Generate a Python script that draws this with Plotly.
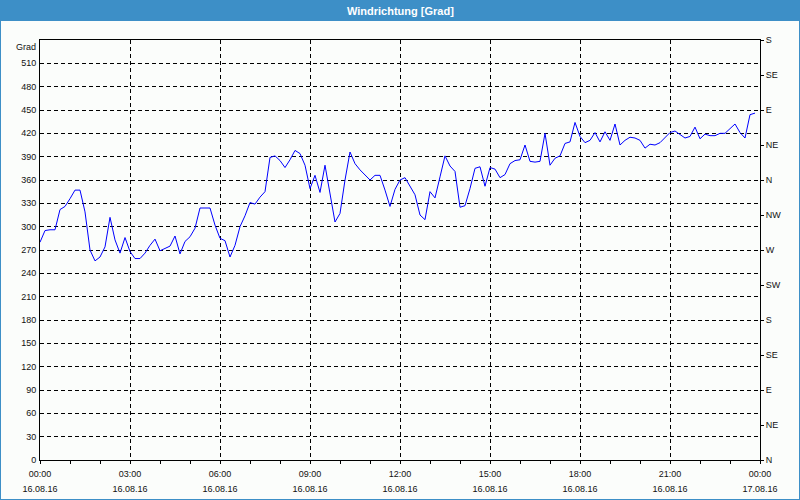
import pandas as pd
import plotly.graph_objects as go

# ---- data ----
START = "2016-08-16 00:00"
STEP = "10min"
WIND_DEG = [
    280, 295, 296, 296, 322, 326, 336, 347, 347, 319, 270, 256, 261, 274, 312, 283, 266, 286,
    268, 259, 259, 266, 276, 284, 269, 272, 275, 288, 265, 281, 287, 298, 324, 324, 324, 302, 285,
    282, 261, 276, 300, 314, 331, 329, 338, 345, 389, 391, 385, 376, 386, 398, 394, 379, 349,
    366, 344, 379, 343, 306, 317, 360, 396, 381, 373, 366, 360, 366, 366, 347, 326, 348, 360,
    363, 351, 341, 315, 309, 345, 337, 364, 391, 378, 371, 325, 327, 349, 375, 377, 352, 376,
    374, 363, 367, 381, 385, 386, 405, 384, 383, 384, 420, 379, 388, 391, 407, 409, 434, 416,
    408, 411, 421, 409, 422, 411, 432, 405, 411, 415, 414, 411, 401, 406, 405, 408, 414, 421,
    423, 419, 414, 416, 428, 413, 419, 417, 417, 420, 420, 426, 432, 421, 414, 444, 446,
]
times = pd.date_range(START, periods=len(WIND_DEG), freq=STEP)

Y_TICKS = list(range(0, 511, 30))
Y_TICK_TEXT = [str(v) for v in Y_TICKS]
DIR_TICKS = list(range(0, 541, 45))
DIR_LABELS = ["N", "NE", "E", "SE", "S", "SW", "W", "NW", "N", "NE", "E", "SE", "S"]
X_TICKS = pd.date_range("2016-08-16 00:00", periods=9, freq="3h")
TIME_LABELS = ["00:00", "03:00", "06:00", "09:00", "12:00", "15:00", "18:00", "21:00", "00:00"]
DATE_LABELS = ["16.08.16"] * 8 + ["17.08.16"]
TITLE = "Windrichtung [Grad]"
Y_UNIT = "Grad"

# ---- style ----
W, H = 800, 500
ML, MR, MT, MB = 40, 40, 40, 40
PW, PH = W - ML - MR, H - MT - MB
BAR = "#3d8fc7"
BG = "#fbfdfb"
FONT = "Liberation Sans"
XR = [X_TICKS[0], X_TICKS[-1]]

fig = go.Figure()
fig.add_trace(go.Scatter(x=times, y=WIND_DEG, mode="lines",
                         line=dict(color="#0000ff", width=1),
                         showlegend=False, hoverinfo="skip"))
fig.add_trace(go.Scatter(x=times, y=WIND_DEG, mode="lines", xaxis="x2", yaxis="y2",
                         line=dict(color="rgba(0,0,0,0)", width=0),
                         showlegend=False, hoverinfo="skip"))

grid = dict(showgrid=True, gridcolor="black", gridwidth=1, griddash="4px,3px")
tickfont = dict(family=FONT, size=9, color="#111")

fig.update_layout(
    width=W, height=H, autosize=False,
    margin=dict(l=ML, r=MR, t=MT, b=MB, pad=0, autoexpand=False),
    paper_bgcolor=BG, plot_bgcolor=BG,
    xaxis=dict(type="date", range=XR, tickvals=X_TICKS, ticktext=TIME_LABELS,
               ticks="outside", ticklen=3, tickcolor="black", tickfont=tickfont,
               ticklabelstandoff=2, automargin=False,
               showline=True, linecolor="black", linewidth=1, mirror=True,
               zeroline=False, fixedrange=True,
               minor=dict(dtick=3600000, ticks="outside", ticklen=3, tickcolor="black",
                          showgrid=False),
               **grid),
    xaxis2=dict(type="date", range=XR, overlaying="x", side="bottom",
                tickvals=X_TICKS, ticktext=DATE_LABELS, ticks="", tickfont=tickfont,
                ticklabelstandoff=22, automargin=False,
                showgrid=False, showline=False, zeroline=False),
    yaxis=dict(range=[0, 540], tickvals=Y_TICKS, ticktext=Y_TICK_TEXT, ticks="",
               tickfont=tickfont, showline=True, linecolor="black", linewidth=1,
               mirror=True, zeroline=False, ticklabelstandoff=1, automargin=False, **grid),
    yaxis2=dict(range=[0, 540], overlaying="y", side="right", tickvals=DIR_TICKS,
                ticktext=DIR_LABELS, ticks="outside", ticklen=3, tickcolor="black",
                tickfont=tickfont, showgrid=False, zeroline=False, showline=False,
                automargin=False),
    shapes=[
        dict(type="rect", xref="paper", yref="paper",
             x0=-ML / PW, x1=1 + MR / PW, y0=1 + (MT - 21) / PH, y1=1 + MT / PH,
             fillcolor=BAR, line=dict(width=0), layer="above"),
        dict(type="rect", xref="paper", yref="paper",
             x0=-ML / PW, x1=1 + MR / PW, y0=-MB / PH, y1=1 + MT / PH,
             fillcolor="rgba(0,0,0,0)", line=dict(color=BAR, width=2), layer="above"),
    ],
    annotations=[
        dict(text=f"<b>{TITLE}</b>", xref="paper", yref="paper", x=0.5,
             y=1 + (MT - 10.5) / PH, xanchor="center", yanchor="middle", showarrow=False,
             font=dict(family=FONT, size=11, color="white")),
        dict(text=Y_UNIT, xref="paper", yref="paper", x=0, y=1, xanchor="right",
             yanchor="top", xshift=-2, showarrow=False, font=tickfont),
    ],
)

fig.write_html("out.html",
               config={"displayModeBar": False, "responsive": False, "staticPlot": True},
               post_script="document.body.style.margin='0px';")
